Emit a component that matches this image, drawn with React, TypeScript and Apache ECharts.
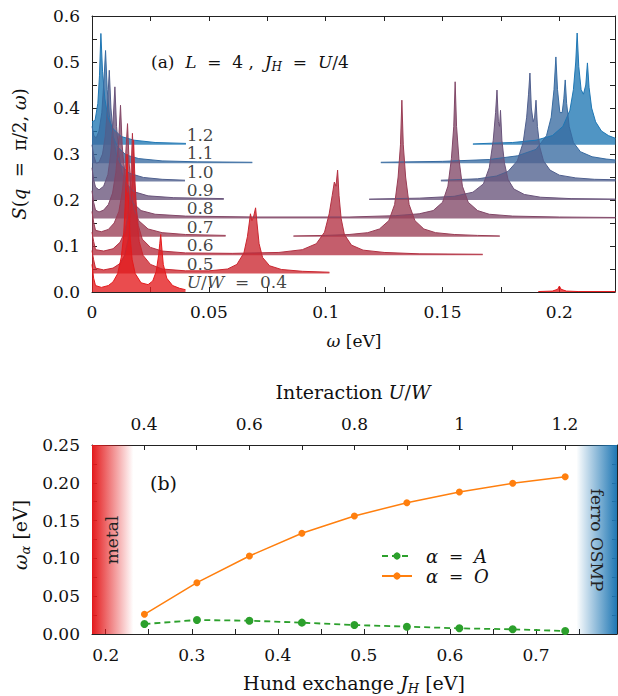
import React, { useEffect, useRef } from 'react';
import * as echarts from 'echarts';

const F = 'DejaVu Serif';

// ---------- Panel (a): spectra S(q=pi/2, omega), one per U/W ----------
const uwLabels = ['0.4', '0.5', '0.6', '0.7', '0.8', '0.9', '1.0', '1.1', '1.2'];
const spectrumOffset = 0.04;
const spectrumColors = ['#e41a1c', '#cb262f', '#b33142', '#9a3d55', '#824868', '#69547b', '#50608e', '#386ba1', '#1f77b4'];

// each spectrum: list of windows, each window a list of [omega, S]
const s04 = [
  [[0, 0.06], [0.0007, 0.03], [0.0015, 0.014], [0.004, 0.01], [0.007, 0.014], [0.009, 0.022], [0.011, 0.04], [0.0125, 0.075], [0.0135, 0.12], [0.0143, 0.2], [0.015, 0.3], [0.0156, 0.2], [0.0163, 0.12], [0.0172, 0.07], [0.0185, 0.04], [0.021, 0.02], [0.024, 0.016], [0.026, 0.024], [0.0275, 0.045], [0.0285, 0.08], [0.029, 0.105], [0.0294, 0.125], [0.0298, 0.1], [0.0305, 0.06], [0.032, 0.03], [0.0345, 0.014], [0.0375, 0.008], [0.04, 0.005]],
  [[0.191, 0.001], [0.197, 0.002], [0.1993, 0.006], [0.2, 0.013], [0.2007, 0.006], [0.203, 0.002], [0.208, 0.001], [0.224, 0.001]],
];
const s05 = [
  [[0, 0.05], [0.0007, 0.03], [0.0015, 0.012], [0.005, 0.008], [0.009, 0.012], [0.012, 0.022], [0.014, 0.04], [0.0155, 0.075], [0.0165, 0.13], [0.0172, 0.2], [0.0178, 0.29], [0.0184, 0.2], [0.0192, 0.12], [0.0202, 0.07], [0.0218, 0.04], [0.025, 0.02], [0.03, 0.01], [0.04, 0.006], [0.05, 0.006], [0.058, 0.01], [0.062, 0.02], [0.065, 0.045], [0.0665, 0.08], [0.0673, 0.11], [0.0678, 0.13], [0.0684, 0.115], [0.0692, 0.125], [0.07, 0.143], [0.0706, 0.11], [0.0715, 0.065], [0.073, 0.035], [0.076, 0.017], [0.081, 0.009], [0.09, 0.005], [0.1016, 0.003]],
];
const s06 = [
  [[0, 0.05], [0.0007, 0.03], [0.0015, 0.012], [0.005, 0.009], [0.009, 0.014], [0.012, 0.028], [0.014, 0.05], [0.0155, 0.09], [0.0165, 0.15], [0.0173, 0.265], [0.018, 0.17], [0.0188, 0.11], [0.0198, 0.065], [0.0215, 0.035], [0.025, 0.017], [0.03, 0.009], [0.04, 0.005], [0.06, 0.004], [0.08, 0.006], [0.09, 0.012], [0.096, 0.025], [0.0995, 0.05], [0.1015, 0.09], [0.1028, 0.13], [0.1037, 0.159], [0.1044, 0.15], [0.1051, 0.185], [0.1057, 0.13], [0.1066, 0.08], [0.108, 0.045], [0.111, 0.022], [0.116, 0.011], [0.125, 0.006], [0.14, 0.003], [0.1672, 0.002]],
];
const s07 = [
  [[0, 0.055], [0.0007, 0.032], [0.0015, 0.014], [0.004, 0.011], [0.007, 0.016], [0.0095, 0.03], [0.0115, 0.055], [0.013, 0.1], [0.0142, 0.16], [0.0152, 0.246], [0.0159, 0.16], [0.0168, 0.1], [0.018, 0.06], [0.02, 0.035], [0.024, 0.017], [0.03, 0.009], [0.04, 0.005], [0.0572, 0.003]],
  [[0.0862, 0.002], [0.1, 0.003], [0.11, 0.005], [0.118, 0.009], [0.123, 0.017], [0.127, 0.035], [0.1295, 0.07], [0.131, 0.13], [0.132, 0.2], [0.1326, 0.297], [0.1332, 0.2], [0.1342, 0.13], [0.1357, 0.07], [0.1382, 0.035], [0.142, 0.017], [0.147, 0.009], [0.155, 0.005], [0.165, 0.003], [0.1745, 0.002]],
];
const s08 = [
  [[0, 0.06], [0.0007, 0.035], [0.0015, 0.018], [0.003, 0.014], [0.005, 0.018], [0.007, 0.03], [0.0088, 0.055], [0.0102, 0.1], [0.0113, 0.16], [0.0122, 0.246], [0.0129, 0.16], [0.0139, 0.1], [0.0152, 0.06], [0.0172, 0.035], [0.021, 0.017], [0.027, 0.009], [0.04, 0.005], [0.07, 0.003], [0.11, 0.003], [0.13, 0.006], [0.14, 0.01], [0.146, 0.017], [0.15, 0.035], [0.1523, 0.07], [0.1538, 0.13], [0.1548, 0.2], [0.1554, 0.297], [0.156, 0.2], [0.157, 0.13], [0.1585, 0.07], [0.161, 0.035], [0.165, 0.017], [0.17, 0.009], [0.18, 0.005], [0.2, 0.003], [0.224, 0.002]],
];
const s09 = [
  [[0, 0.07], [0.0007, 0.045], [0.0015, 0.028], [0.003, 0.022], [0.005, 0.03], [0.0068, 0.055], [0.008, 0.1], [0.0089, 0.16], [0.0098, 0.246], [0.0105, 0.16], [0.0115, 0.1], [0.0128, 0.06], [0.0148, 0.035], [0.018, 0.018], [0.024, 0.009], [0.035, 0.005], [0.0564, 0.003]],
  [[0.1186, 0.002], [0.14, 0.004], [0.155, 0.008], [0.163, 0.017], [0.1675, 0.035], [0.17, 0.07], [0.1717, 0.13], [0.1727, 0.19], [0.1733, 0.239], [0.1739, 0.17], [0.1744, 0.16], [0.1748, 0.195], [0.1754, 0.13], [0.1765, 0.08], [0.178, 0.045], [0.1805, 0.024], [0.185, 0.012], [0.192, 0.006], [0.205, 0.003], [0.224, 0.002]],
];
const s10 = [
  [[0, 0.08], [0.0008, 0.055], [0.0018, 0.04], [0.003, 0.042], [0.0045, 0.06], [0.0057, 0.1], [0.0066, 0.16], [0.0074, 0.242], [0.0081, 0.16], [0.0091, 0.1], [0.0104, 0.06], [0.0125, 0.035], [0.016, 0.018], [0.022, 0.009], [0.03, 0.005], [0.0398, 0.003]],
  [[0.1493, 0.003], [0.165, 0.006], [0.173, 0.012], [0.178, 0.022], [0.182, 0.045], [0.1845, 0.085], [0.186, 0.14], [0.1868, 0.19], [0.1874, 0.236], [0.188, 0.16], [0.1888, 0.13], [0.1894, 0.14], [0.19, 0.177], [0.1906, 0.12], [0.1916, 0.075], [0.1932, 0.045], [0.196, 0.025], [0.2, 0.014], [0.207, 0.008], [0.215, 0.005], [0.224, 0.004]],
];
const s11 = [
  [[0, 0.08], [0.0008, 0.06], [0.0018, 0.055], [0.003, 0.07], [0.0042, 0.11], [0.005, 0.17], [0.0058, 0.245], [0.0065, 0.16], [0.0075, 0.1], [0.0088, 0.06], [0.011, 0.035], [0.0145, 0.018], [0.02, 0.01], [0.03, 0.005], [0.045, 0.003], [0.0686, 0.002]],
  [[0.1236, 0.002], [0.15, 0.004], [0.17, 0.008], [0.182, 0.016], [0.19, 0.03], [0.1945, 0.06], [0.1965, 0.1], [0.1977, 0.16], [0.1985, 0.231], [0.1992, 0.16], [0.2002, 0.11], [0.2012, 0.11], [0.2019, 0.14], [0.2025, 0.181], [0.2031, 0.13], [0.2042, 0.08], [0.206, 0.045], [0.209, 0.025], [0.214, 0.014], [0.22, 0.009], [0.224, 0.007]],
];
const s12 = [
  [[0, 0.05], [0.0013, 0.053], [0.0025, 0.09], [0.0032, 0.15], [0.0038, 0.242], [0.0045, 0.16], [0.0055, 0.1], [0.0068, 0.06], [0.009, 0.035], [0.0125, 0.018], [0.018, 0.01], [0.027, 0.005], [0.0402, 0.003]],
  [[0.163, 0.002], [0.18, 0.005], [0.19, 0.01], [0.197, 0.02], [0.2015, 0.04], [0.2045, 0.075], [0.206, 0.12], [0.207, 0.18], [0.2076, 0.243], [0.2083, 0.17], [0.2093, 0.12], [0.2103, 0.11], [0.2113, 0.13], [0.212, 0.178], [0.2127, 0.125], [0.2138, 0.08], [0.2155, 0.05], [0.218, 0.03], [0.221, 0.02], [0.224, 0.014]],
];
const spectra = [s04, s05, s06, s07, s08, s09, s10, s11, s12];

// ---------- Panel (b): mode energies ----------
const hundJ = [0.245, 0.306, 0.367, 0.428, 0.489, 0.55, 0.611, 0.673, 0.734];
const omegaA = [0.0132, 0.0185, 0.0176, 0.015, 0.0119, 0.0097, 0.0075, 0.0062, 0.004];
const omegaO = [0.0261, 0.0679, 0.1032, 0.1332, 0.1561, 0.1737, 0.1878, 0.1993, 0.2081];
const jhTicks = [0.2, 0.25, 0.3, 0.35, 0.4, 0.45, 0.5, 0.55, 0.6, 0.65, 0.7, 0.75];
const jhTickLabels = [0.2, 0.3, 0.4, 0.5, 0.6, 0.7];
const uwTicks = [0.4, 0.5, 0.6, 0.7, 0.8, 0.9, 1.0, 1.1, 1.2];
const uwTickLabels = [0.4, 0.6, 0.8, 1, 1.2];
const jhRange = [0.18407, 0.7942];
const uwRange = [0.30106, 1.299];
const metalRange = [0.18407, 0.232];
const ferroRange = [0.747, 0.7942];

const isMult = (v: number, step: number) => Math.abs(v / step - Math.round(v / step)) < 1e-6;

const mkRich = (fs: number) => ({
  i: { fontFamily: F, fontSize: fs, fontStyle: 'italic', color: '#111' },
  s: { fontFamily: F, fontSize: Math.round(fs * 0.7), fontStyle: 'italic', color: '#111', padding: [Math.round(fs * 0.55), 0, 0, 0] },
});
const rich = mkRich(17);

const axisCommon = {
  axisLine: { show: true, onZero: false, lineStyle: { color: '#222', width: 1 } },
  axisTick: { show: true, inside: true, length: 5, lineStyle: { color: '#222', width: 1 } },
  splitLine: { show: false },
};

export default function App() {
  const ref = useRef<HTMLDivElement>(null);
  useEffect(() => {
    document.body.style.margin = '0';
    const chart = echarts.init(ref.current!, undefined, { renderer: 'svg' });

    const series: any[] = [];
    for (let i = spectra.length - 1; i >= 0; i--) {
      const base = i * spectrumOffset;
      spectra[i].forEach((win) => {
        series.push({
          type: 'line',
          xAxisIndex: 0,
          yAxisIndex: 0,
          data: win.map(([w, s]) => [w, s + base]),
          symbol: 'none',
          showSymbol: false,
          silent: true,
          lineStyle: { color: spectrumColors[i], width: 1 },
          areaStyle: { color: spectrumColors[i], opacity: 0.78, origin: base },
        });
      });
    }
    series.push({
      type: 'scatter',
      xAxisIndex: 0,
      yAxisIndex: 0,
      symbolSize: 0,
      silent: true,
      z: 10,
      data: uwLabels.map((t, i) => ({
        value: [0.0405, i * spectrumOffset + 0.0217],
        label: { formatter: i === 0 ? '{i|U}/{i|W}  =  ' + t : t },
      })),
      label: { show: true, position: 'right', distance: 0, color: '#111', fontFamily: F, fontSize: 17, rich },
    });

    series.push({
      name: 'α = A',
      type: 'line',
      xAxisIndex: 2,
      yAxisIndex: 2,
      data: hundJ.map((x, k) => [x, omegaA[k]]),
      symbol: 'circle',
      symbolSize: 8,
      itemStyle: { color: '#2ca02c' },
      lineStyle: { color: '#2ca02c', width: 1.8, type: [6, 4] },
      z: 5,
    });
    series.push({
      name: 'α = O',
      type: 'line',
      xAxisIndex: 2,
      yAxisIndex: 2,
      data: hundJ.map((x, k) => [x, omegaO[k]]),
      symbol: 'circle',
      symbolSize: 7,
      itemStyle: { color: '#ff7f0e' },
      lineStyle: { color: '#ff7f0e', width: 1.5 },
      z: 5,
      markArea: {
        silent: true,
        label: { show: false },
        data: [
          [
            { xAxis: metalRange[0], yAxis: 0, itemStyle: { color: { type: 'linear', x: 0, y: 0, x2: 1, y2: 0, colorStops: [{ offset: 0, color: 'rgba(228,26,28,1)' }, { offset: 1, color: 'rgba(228,26,28,0)' }] } } },
            { xAxis: metalRange[1], yAxis: 0.25 },
          ],
          [
            { xAxis: ferroRange[0], yAxis: 0, itemStyle: { color: { type: 'linear', x: 0, y: 0, x2: 1, y2: 0, colorStops: [{ offset: 0, color: 'rgba(31,119,180,0)' }, { offset: 1, color: 'rgba(31,119,180,1)' }] } } },
            { xAxis: ferroRange[1], yAxis: 0.25 },
          ],
        ],
      },
    });

    const textBase = { fill: '#111', fontFamily: F, fontSize: 17, rich };
    const textBig = { fill: '#111', fontFamily: F, fontSize: 19, rich: mkRich(19) };

    chart.setOption({
      animation: false,
      textStyle: { fontFamily: F },
      grid: [
        { left: 92, top: 16, width: 525, height: 276 },
        { left: 92, top: 445, width: 525, height: 189 },
      ],
      xAxis: [
        {
          ...axisCommon, gridIndex: 0, type: 'value', position: 'bottom', min: 0, max: 0.2238, interval: 0.025,
          axisLabel: { margin: 11, color: '#111', fontSize: 17, fontFamily: F, formatter: (v: number) => (isMult(v, 0.05) ? String(Math.round(v * 100) / 100) : '') },
        },
        { ...axisCommon, gridIndex: 0, type: 'value', position: 'top', min: 0, max: 0.2238, interval: 0.025, axisLabel: { show: false } },
        {
          ...axisCommon, gridIndex: 1, type: 'value', position: 'bottom', min: jhRange[0], max: jhRange[1],
          axisTick: { ...axisCommon.axisTick, customValues: jhTicks },
          axisLabel: { customValues: jhTickLabels, margin: 12, color: '#111', fontSize: 17, fontFamily: F, formatter: (v: number) => v.toFixed(1) },
        },
        {
          ...axisCommon, gridIndex: 1, type: 'value', position: 'top', min: uwRange[0], max: uwRange[1],
          axisTick: { ...axisCommon.axisTick, customValues: uwTicks },
          axisLabel: { customValues: uwTickLabels, margin: 13, color: '#111', fontSize: 17, fontFamily: F, formatter: (v: number) => String(Math.round(v * 10) / 10) },
        },
      ],
      yAxis: [
        {
          ...axisCommon, gridIndex: 0, type: 'value', position: 'left', min: 0, max: 0.6, interval: 0.05,
          axisLabel: { margin: 12, color: '#111', fontSize: 17, fontFamily: F, formatter: (v: number) => (isMult(v, 0.1) ? v.toFixed(1) : '') },
        },
        { ...axisCommon, gridIndex: 0, type: 'value', position: 'right', min: 0, max: 0.6, interval: 0.05, axisLabel: { show: false } },
        {
          ...axisCommon, gridIndex: 1, type: 'value', position: 'left', min: 0, max: 0.25, interval: 0.025,
          axisLabel: { margin: 12, color: '#111', fontSize: 17, fontFamily: F, formatter: (v: number) => (isMult(v, 0.05) ? v.toFixed(2) : '') },
        },
        { ...axisCommon, gridIndex: 1, type: 'value', position: 'right', min: 0, max: 0.25, interval: 0.025, axisLabel: { show: false } },
      ],
      legend: {
        left: 376,
        top: 542,
        orient: 'vertical',
        itemWidth: 30,
        itemHeight: 9,
        itemGap: 2,
        data: ['α = A', 'α = O'],
        formatter: (n: string) => n.replace(/([αAO])/g, '{i|$1}').replace(' = ', '  =  '),
        textStyle: { fontFamily: F, fontSize: 17, lineHeight: 18, color: '#111', padding: [0, 0, 0, 9], rich: mkRich(18) },
      },
      graphic: [
        { type: 'text', x: 19, y: 154, rotation: Math.PI / 2, style: { ...textBig, fontSize: 18, rich: mkRich(18), text: '{i|S}({i|q}  =  π/2, {i|ω})', align: 'center', verticalAlign: 'middle' } },
        { type: 'text', x: 354, y: 341, style: { ...textBase, text: '{i|ω} [eV]', align: 'center', verticalAlign: 'middle' } },
        { type: 'text', x: 151, y: 62, style: { ...textBase, text: '(a)  {i|L}  =  4 ,  {i|J}{s|H}  =  {i|U}/4', align: 'left', verticalAlign: 'middle' } },
        { type: 'text', x: 353, y: 392, style: { ...textBig, text: 'Interaction {i|U}/{i|W}', align: 'center', verticalAlign: 'middle' } },
        { type: 'text', x: 150, y: 483, style: { ...textBig, text: '(b)', align: 'left', verticalAlign: 'middle' } },
        { type: 'text', x: 20, y: 535, rotation: Math.PI / 2, style: { ...textBig, text: '{i|ω}{s|α} [eV]', align: 'center', verticalAlign: 'middle' } },
        { type: 'text', x: 354, y: 683, style: { ...textBig, text: 'Hund exchange {i|J}{s|H} [eV]', align: 'center', verticalAlign: 'middle' } },
        { type: 'text', x: 112, y: 540, rotation: Math.PI / 2, z: 100, style: { fill: '#222', fontFamily: F, fontSize: 17, text: 'metal', align: 'center', verticalAlign: 'middle' } },
        { type: 'text', x: 597, y: 540, rotation: -Math.PI / 2, z: 100, style: { fill: '#222', fontFamily: F, fontSize: 17, text: 'ferro OSMP', align: 'center', verticalAlign: 'middle' } },
      ],
      series,
    });
    return () => chart.dispose();
  }, []);
  return <div ref={ref} style={{ width: 618, height: 696 }} />;
}
